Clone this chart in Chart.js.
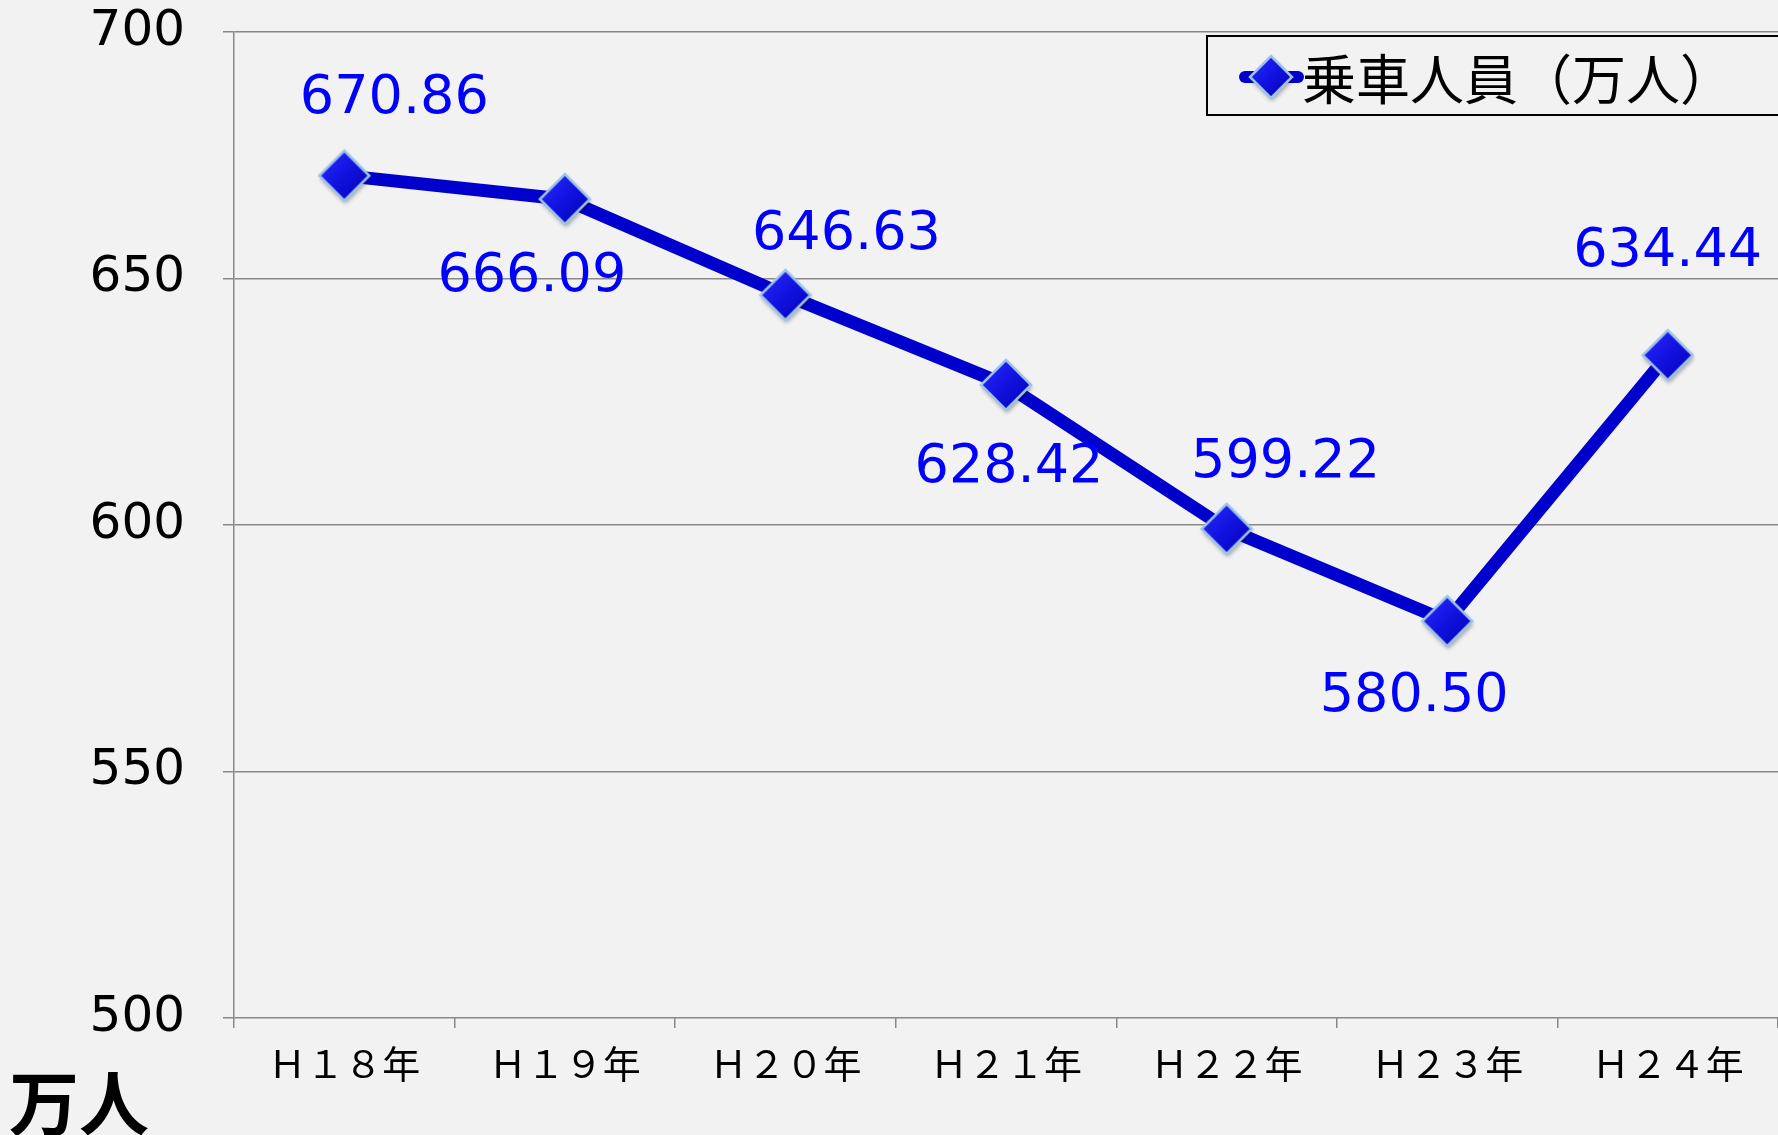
<!DOCTYPE html>
<html>
<head>
<meta charset="utf-8">
<script src="https://cdn.jsdelivr.net/npm/chart.js@4"></script>
<style>
  html, body { margin: 0; padding: 0; background: #f2f2f2; }
  #wrap { width: 1778px; height: 1135px; position: relative; }
</style>
</head>
<body>
<div id="wrap"><canvas id="ridership-chart"></canvas></div>
<script>
// 年度ラベル
const years = ['Ｈ１８年', 'Ｈ１９年', 'Ｈ２０年', 'Ｈ２１年', 'Ｈ２２年', 'Ｈ２３年', 'Ｈ２４年'];
// 乗車人員（万人）
const riders = [670.86, 666.09, 646.63, 628.42, 599.22, 580.50, 634.44];
// 目盛り
const yTicks = [500, 550, 600, 650, 700];
const seriesName = '乗車人員（万人）';
const unitLabel = '万人';

// データラベルの位置（点からのずれ）
const labelDx = [50, -33, 61, 3, 59, -33, 0];
const labelDy = [-77, 78, -60, 83, -66, 76, -103];

const lineBlue = '#0000cc';
const markEdge = '#9cc3ea';

// ひし形マーカー（影付き）を作る
function makeDiamond(r) {
  const size = r * 2 + 14;
  const c = document.createElement('canvas');
  c.width = size;
  c.height = size;
  const g = c.getContext('2d');
  const m = size / 2;
  g.shadowColor = 'rgba(0, 0, 0, 0.35)';
  g.shadowBlur = 4;
  g.shadowOffsetX = 1;
  g.shadowOffsetY = 3;
  const grad = g.createLinearGradient(m - r, m - r, m + r, m + r);
  grad.addColorStop(0, '#2a2aff');
  grad.addColorStop(0.5, '#1212e0');
  grad.addColorStop(1, '#0000b4');
  g.fillStyle = grad;
  g.strokeStyle = markEdge;
  g.lineWidth = 2.5;
  g.beginPath();
  g.moveTo(m, m - r);
  g.lineTo(m + r, m);
  g.lineTo(m, m + r);
  g.lineTo(m - r, m);
  g.closePath();
  g.fill();
  g.shadowColor = 'transparent';
  g.stroke();
  return c;
}
const diamond = makeDiamond(25);
const legendDiamond = makeDiamond(21);

// 値ラベル
const valueLabels = {
  id: 'valueLabels',
  afterDatasetsDraw(chart) {
    const ctx = chart.ctx;
    const meta = chart.getDatasetMeta(0);
    ctx.save();
    ctx.font = '54px "DejaVu Sans"';
    ctx.fillStyle = '#0000ff';
    ctx.textAlign = 'center';
    ctx.textBaseline = 'middle';
    meta.data.forEach((pt, i) => {
      ctx.fillText(riders[i].toFixed(2), pt.x + labelDx[i], pt.y + labelDy[i]);
    });
    ctx.restore();
  }
};

// 凡例と単位
const extras = {
  id: 'extras',
  afterDraw(chart) {
    const ctx = chart.ctx;
    ctx.save();
    // 凡例の枠
    ctx.fillStyle = '#f2f2f2';
    ctx.fillRect(1207, 36, 580, 79);
    ctx.strokeStyle = '#000';
    ctx.lineWidth = 2;
    ctx.strokeRect(1207, 36, 580, 79);
    // 線
    ctx.strokeStyle = lineBlue;
    ctx.lineWidth = 12;
    ctx.lineCap = 'round';
    ctx.beginPath();
    ctx.moveTo(1245, 77);
    ctx.lineTo(1298, 77);
    ctx.stroke();
    // ひし形
    ctx.drawImage(legendDiamond, 1271 - legendDiamond.width / 2, 77 - legendDiamond.height / 2);
    // 凡例テキスト
    ctx.fillStyle = '#000';
    ctx.font = '54px "Noto Sans CJK JP"';
    ctx.textAlign = 'left';
    ctx.textBaseline = 'middle';
    ctx.fillText(seriesName, 1302, 79);
    // 単位
    ctx.font = 'bold 70px "Noto Sans CJK JP"';
    ctx.fillText(unitLabel, 9, 1103);
    ctx.restore();
  }
};

// 目盛りラベルによる余白を消す
function noPad(s) {
  s.paddingTop = 0;
  s.paddingBottom = 0;
  s.paddingLeft = 0;
  s.paddingRight = 0;
}

const ctx = document.getElementById('ridership-chart').getContext('2d');
new Chart(ctx, {
  type: 'line',
  data: {
    labels: years,
    datasets: [{
      label: seriesName,
      data: riders,
      borderColor: lineBlue,
      borderWidth: 13,
      pointStyle: diamond,
      pointRadius: 25,
      pointHoverRadius: 25,
      tension: 0,
      fill: false
    }]
  },
  options: {
    responsive: true,
    maintainAspectRatio: false,
    animation: false,
    layout: { autoPadding: false, padding: { top: 32, left: 0, right: -3, bottom: 0 } },
    plugins: {
      legend: { display: false },
      tooltip: { enabled: false }
    },
    scales: {
      x: {
        offset: true,
        afterFit: (s) => { s.height = 117; noPad(s); },
        grid: {
          offset: true,
          drawOnChartArea: false,
          color: '#888888',
          lineWidth: 1.5,
          tickLength: 10
        },
        border: { display: false },
        ticks: {
          color: '#000',
          padding: 13,
          maxRotation: 0,
          font: { family: '"Noto Sans CJK JP"', size: 38 }
        }
      },
      y: {
        min: 500,
        max: 700,
        afterFit: (s) => { s.width = 234; noPad(s); },
        afterBuildTicks: (s) => { s.ticks = yTicks.map(v => ({ value: v })); },
        grid: {
          color: '#888888',
          lineWidth: 1.5,
          tickLength: 11
        },
        border: { display: true, color: '#888888', width: 1.5 },
        ticks: {
          color: '#000',
          padding: 38,
          font: { family: '"DejaVu Sans"', size: 50 }
        }
      }
    }
  },
  plugins: [valueLabels, extras]
});
</script>
</body>
</html>
